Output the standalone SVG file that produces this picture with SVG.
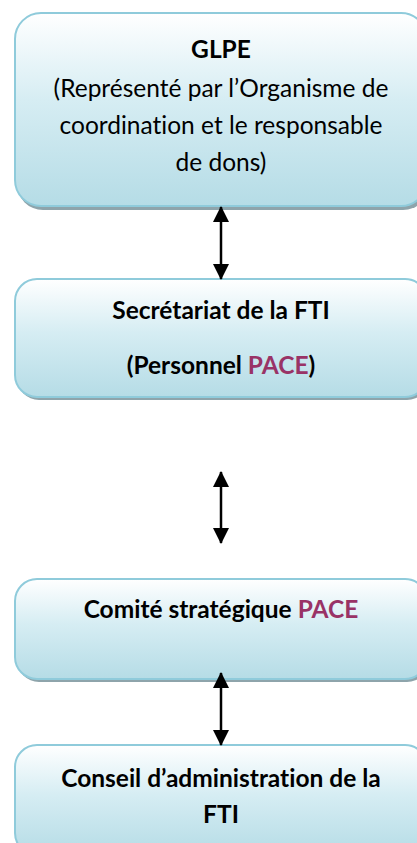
<svg xmlns="http://www.w3.org/2000/svg" width="417" height="843" viewBox="0 0 417 843">
<defs>
<linearGradient id="g" x1="0" y1="0" x2="0" y2="1">
<stop offset="0" stop-color="#ffffff"/>
<stop offset="0.45" stop-color="#d6edf3"/>
<stop offset="1" stop-color="#b5dce6"/>
</linearGradient>
<marker id="ah" viewBox="0 0 16 16" refX="15" refY="8" markerWidth="16" markerHeight="16" markerUnits="userSpaceOnUse" orient="auto-start-reverse">
<path d="M0,0 L16,8 L0,16 Z" fill="#000"/>
</marker>
</defs>
<style>
.box{fill:url(#g);stroke:#8fcbdb;stroke-width:2}
.sh{fill:#8ea4ab}
text{font-family:Lato,"Open Sans",sans-serif;font-size:24.5px;fill:#000;text-anchor:middle;font-variant-ligatures:none}
.b{font-weight:bold}
.p{fill:#993366}
.c{stroke:#000;stroke-width:2.5;fill:none;marker-start:url(#ah);marker-end:url(#ah)}
</style>
<rect width="417" height="843" fill="#fff"/>
<g id="glpe">
<rect class="sh" x="17" y="16" width="412" height="194" rx="26"/>
<rect class="box" x="15" y="13" width="412" height="193" rx="26"/>
<text class="b" x="221" y="58">GLPE</text>
<text x="221" y="97">(Représenté par l’Organisme de</text>
<text x="221" y="134">coordination et le responsable</text>
<text x="221" y="171">de dons)</text>
</g>
<g id="secretariat">
<rect class="sh" x="17" y="282" width="412" height="118" rx="22"/>
<rect class="box" x="15" y="279" width="412" height="118" rx="22"/>
<text class="b" x="221" y="319">Secrétariat de la FTI</text>
<text class="b" x="221" y="374">(Personnel <tspan class="p">PACE</tspan>)</text>
</g>
<g id="comite">
<rect class="sh" x="17" y="582" width="412" height="100" rx="22"/>
<rect class="box" x="15" y="579" width="412" height="100" rx="22"/>
<text class="b" x="221" y="618">Comité stratégique <tspan class="p">PACE</tspan></text>
</g>
<g id="conseil">
<rect class="sh" x="17" y="748" width="412" height="110" rx="22"/>
<rect class="box" x="15" y="745" width="412" height="110" rx="22"/>
<text class="b" x="221" y="787">Conseil d’administration de la</text>
<text class="b" x="221" y="823">FTI</text>
</g>
<g id="connectors">
<line class="c" x1="221" y1="207" x2="221" y2="279"/>
<line class="c" x1="221" y1="472" x2="221" y2="543"/>
<line class="c" x1="221" y1="673" x2="221" y2="745"/>
</g>
</svg>
